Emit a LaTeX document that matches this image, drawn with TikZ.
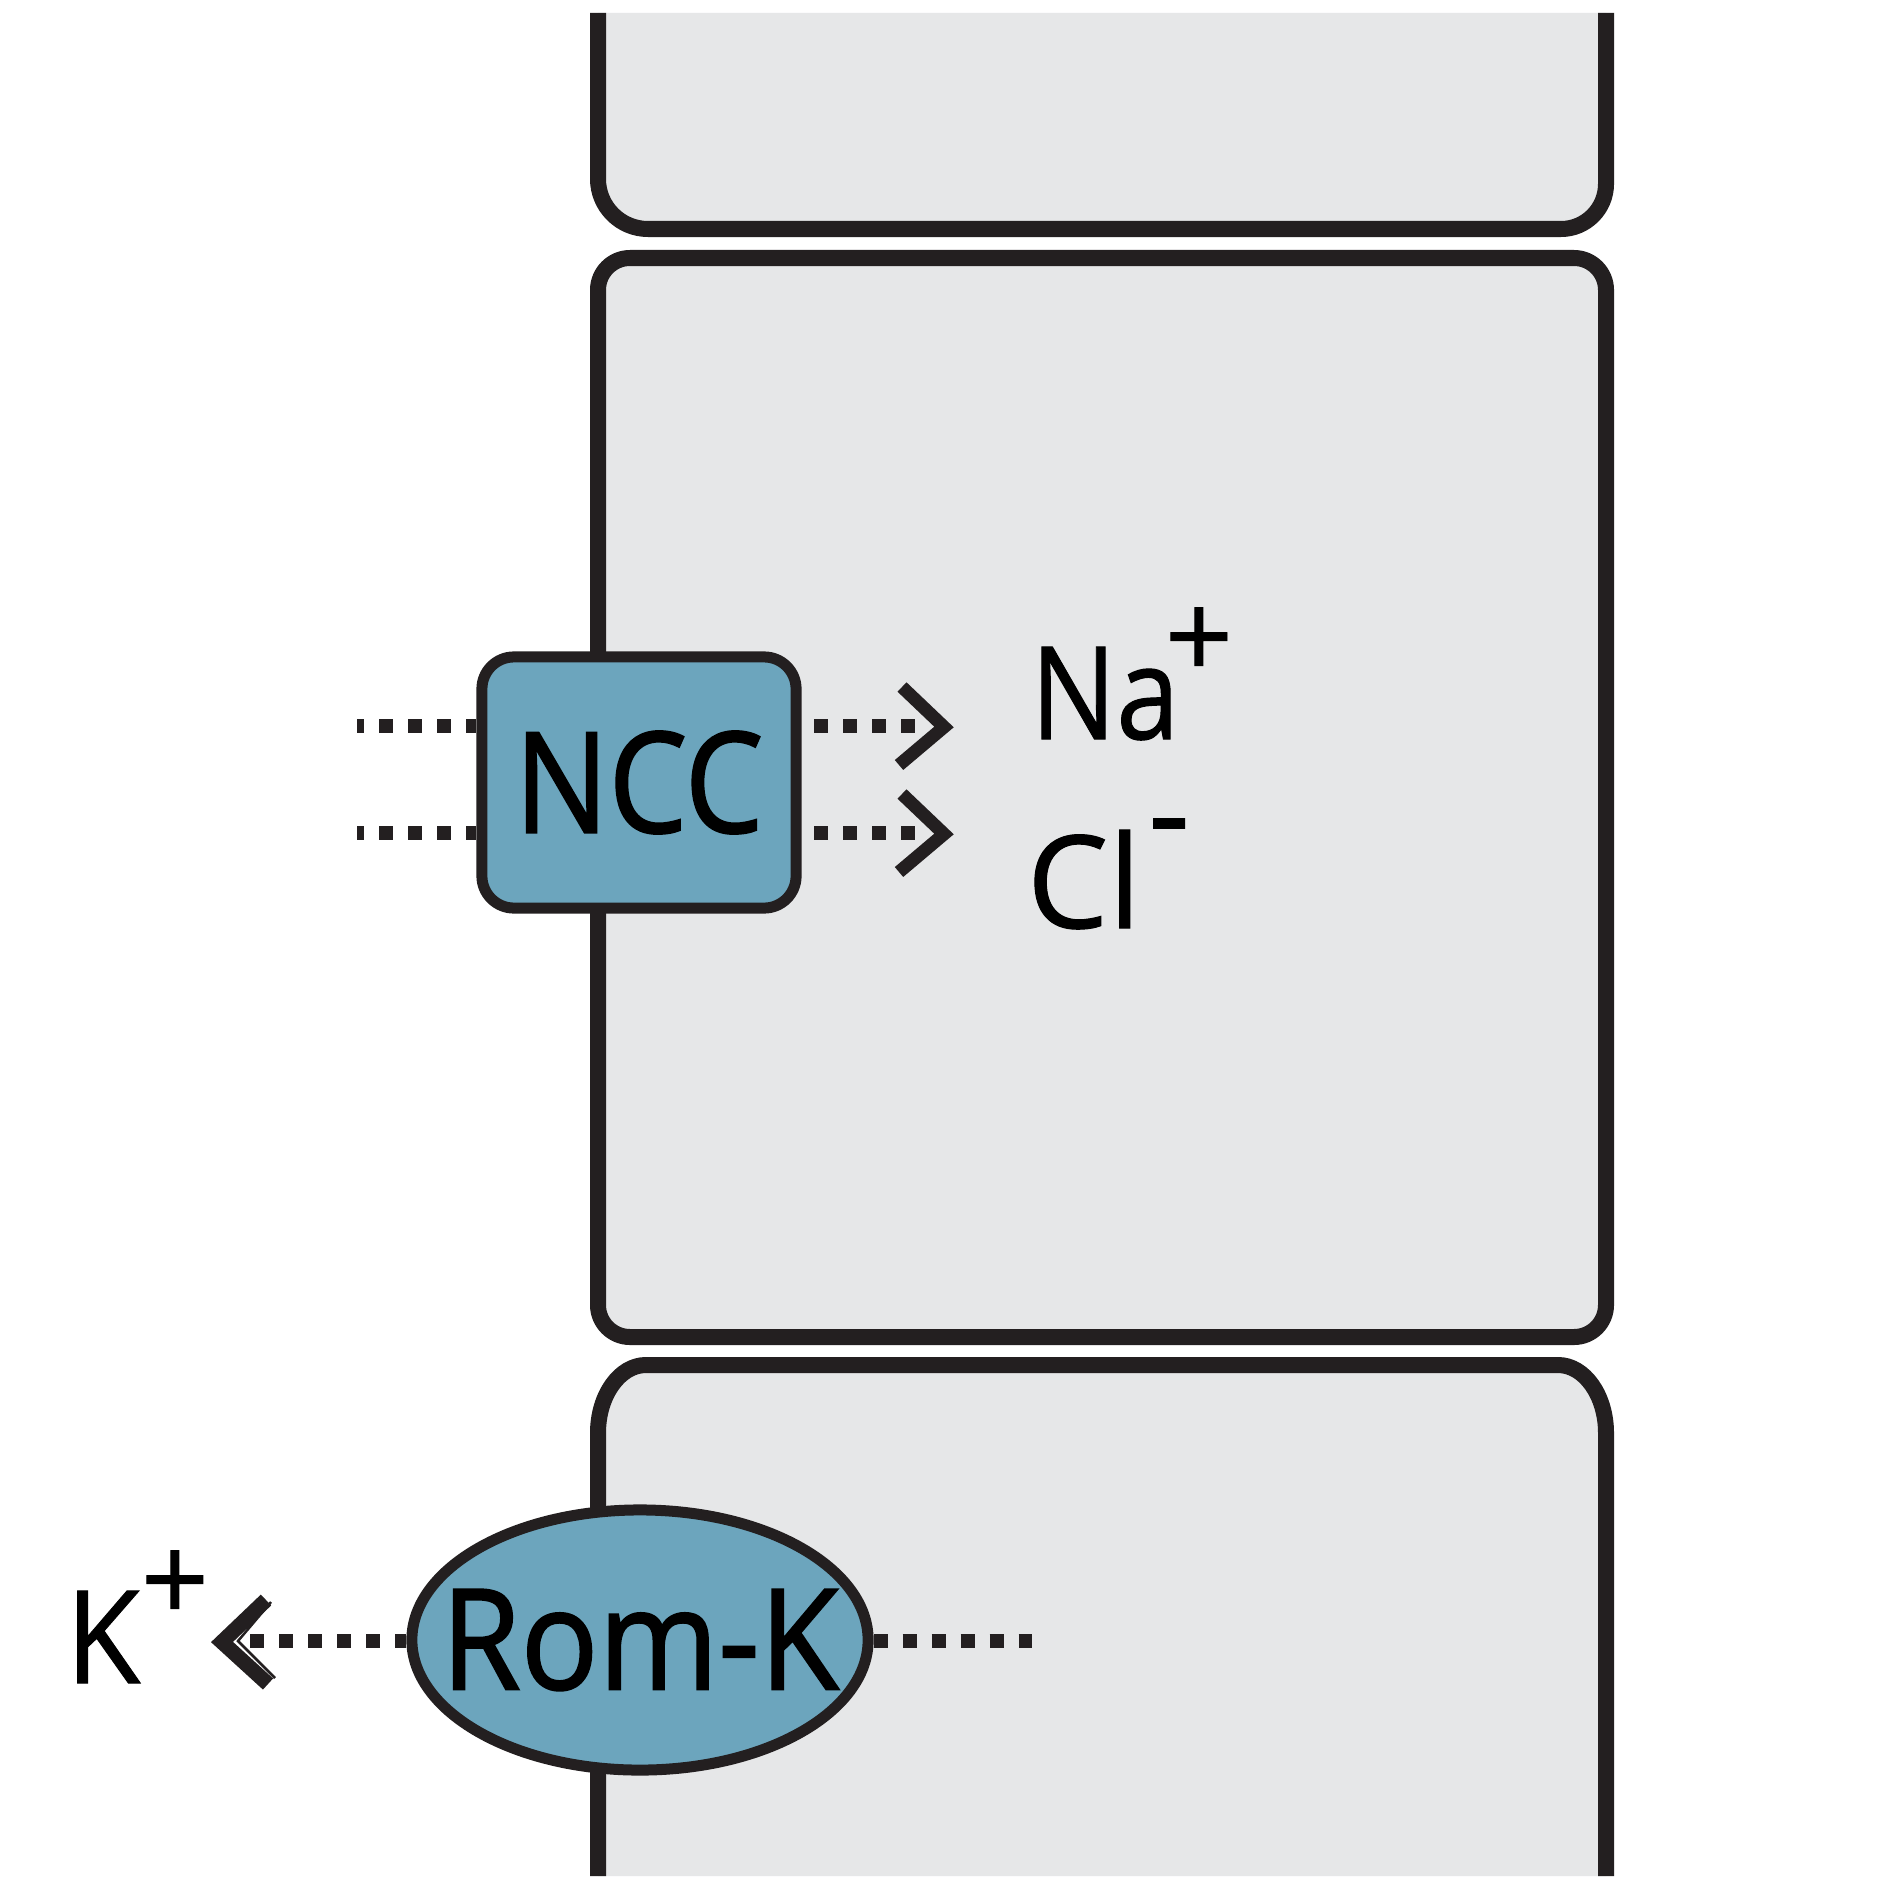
\documentclass[tikz,border=0pt]{standalone}
\usepackage{fontspec}
\usepackage{graphicx}
\setmainfont{Open Sans}
\newfontfamily\chanfont[FakeBold=1.5]{Open Sans}
\newfontfamily\ionfont[FakeBold=0.8]{Open Sans}
\usetikzlibrary{shapes.geometric,calc}
\definecolor{memb}{HTML}{231F20}
\definecolor{cellgray}{HTML}{E6E7E8}
\definecolor{chanblue}{HTML}{6CA5BD}
\begin{document}
\begin{tikzpicture}[x=0.01cm,y=-0.01cm,
  membline/.style={draw=memb,line width=0.16cm,line join=round},
  dashline/.style={draw=memb,line width=0.14cm,dash pattern=on 0.14cm off 0.15cm},
  chevline/.style={draw=memb,line width=0.13cm,line join=miter},
  chanbox/.style={draw=memb,fill=chanblue,line width=0.11cm,rectangle,rounded corners=0.32cm,minimum width=3.14cm,minimum height=2.51cm,inner sep=0pt},
  chanell/.style={draw=memb,fill=chanblue,line width=0.11cm,ellipse,minimum width=4.56cm,minimum height=2.6cm,inner sep=0pt},
  chantext/.style={font=\chanfont\fontsize{39.8pt}{48pt}\selectfont,text=black},
  iontext/.style={font=\ionfont\fontsize{36.7pt}{44pt}\selectfont,inner sep=0pt,text=black},
  supsign/.style={font=\ionfont\fontsize{34pt}{40pt}\selectfont,inner sep=0pt,text=black},
]
\path[use as bounding box] (0,0) rectangle (1888,1888);
\fill[white] (0,0) rectangle (1888,1888);

% top cell
\fill[cellgray] (598,13) -- (598,179) .. controls (598,206.6) and (620.4,229) .. (648,229) -- (1561,229) .. controls (1585.8,229) and (1606,208.8) .. (1606,184) -- (1606,13) -- cycle;
\draw[membline] (598,13) -- (598,179) .. controls (598,206.6) and (620.4,229) .. (648,229) -- (1561,229) .. controls (1585.8,229) and (1606,208.8) .. (1606,184) -- (1606,13);

% middle cell
\draw[membline,fill=cellgray,rounded corners=0.32cm] (598,258) rectangle (1606,1337);

% bottom cell
\fill[cellgray] (598,1876) -- (598,1433) .. controls (598,1395.5) and (619.5,1365) .. (646,1365) -- (1558,1365) .. controls (1584.5,1365) and (1606,1395.5) .. (1606,1433) -- (1606,1876) -- cycle;
\draw[membline] (598,1876) -- (598,1433) .. controls (598,1395.5) and (619.5,1365) .. (646,1365) -- (1558,1365) .. controls (1584.5,1365) and (1606,1395.5) .. (1606,1433) -- (1606,1876);

% NCC transporter
\node[chanbox,chantext] (ncc) at (639,782.5) {\scalebox{0.89}[1]{NCC}};

% coordinates for fluxes
\coordinate (naL) at (357,726);
\coordinate (clL) at (357,833);
\coordinate (naR) at (814,726);
\coordinate (clR) at (814,833);
\coordinate (naTip) at (944,727);
\coordinate (clTip) at (944,834);

\draw[dashline,dash phase=0.07cm] (naL) -- (naL -| ncc.west);
\draw[dashline,dash phase=0.07cm] (clL) -- (clL -| ncc.west);
\draw[dashline] (naR) -- ([xshift=-0.28cm]naTip |- naR);
\draw[dashline] (clR) -- ([xshift=-0.28cm]clTip |- clR);
\draw[chevline] ([shift={(-42,-40)}]naTip) -- (naTip) -- ([shift={(-45,38)}]naTip);
\draw[chevline] ([shift={(-42,-40)}]clTip) -- (clTip) -- ([shift={(-45,38)}]clTip);

% ions
\node[iontext,anchor=base] (na) at (1105,739) {\scalebox{0.88}[1]{Na}};
\node[supsign,anchor=north] (naplus) at (1199,607) {+};
\node[iontext,anchor=base] (cl) at (1084,928) {Cl};
\node[iontext,anchor=north] (clminus) at (1169,818) {-};

% Rom-K channel
\node[chanell,chantext] (romk) at (640,1640) {\makebox[0pt]{\scalebox{0.92}[1]{Rom-K}}};

\coordinate (kL) at (250,1641);
\coordinate (kR) at (1032,1641);
\coordinate (kTip) at (222,1642);
\draw[dashline] (kL) -- (kL -| romk.west);
\draw[dashline] (romk.east |- kR) -- (kR);
\draw[chevline,line width=0.15cm] ([shift={(44,-42)}]kTip) -- (kTip) -- ([shift={(46,42)}]kTip);
\draw[memb,line width=0.025cm] (271,1602) -- (238,1641) -- (275,1678);

\node[iontext,anchor=base] (k) at (103,1683) {\scalebox{0.94}[1]{K}};
\node[supsign,anchor=north] (kplus) at (175,1550) {+};
\end{tikzpicture}
\end{document}
